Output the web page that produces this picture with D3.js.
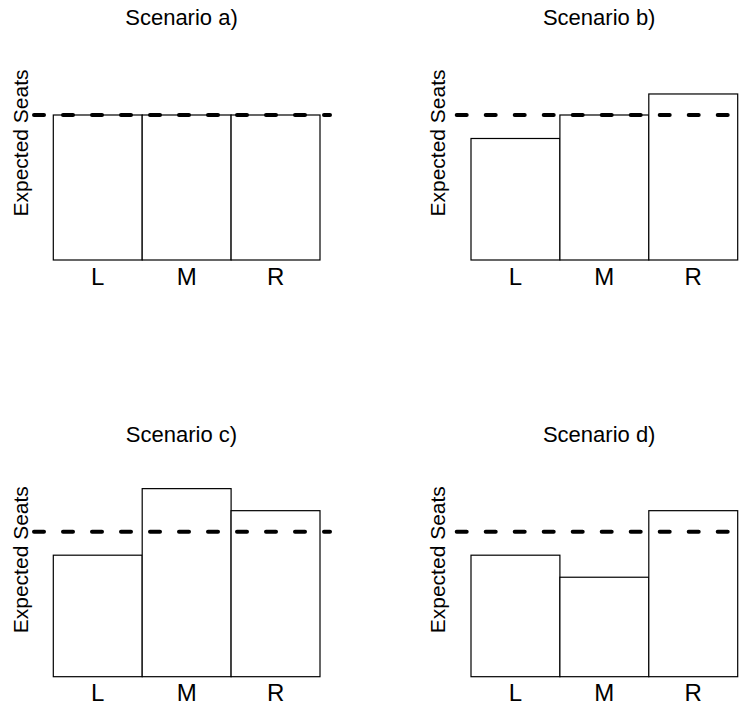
<!DOCTYPE html>
<html>
<head>
<meta charset="utf-8">
<script src="https://cdn.jsdelivr.net/npm/d3@7"></script>
<style>
  body { margin: 0; background: #fff; }
  svg { display: block; font-family: "Liberation Sans", Arial, Helvetica, sans-serif; }
</style>
</head>
<body>
<div id="chart"></div>
<script>
// data
var categories = ["L", "M", "R"];
var titles = ["Scenario a)", "Scenario b)", "Scenario c)", "Scenario d)"];
var seatsA = [1, 1, 1];
var seatsB = [0.838, 1, 1.145];
var seatsC = [0.838, 1.297, 1.145];
var seatsD = [0.838, 0.686, 1.145];
var expectedLevel = 1;

var panels = [
  { title: titles[0], values: seatsA, col: 0, row: 0 },
  { title: titles[1], values: seatsB, col: 1, row: 0 },
  { title: titles[2], values: seatsC, col: 0, row: 1 },
  { title: titles[3], values: seatsD, col: 1, row: 1 }
];

var W = 740, H = 708;
var colOffset = [0, 417.7];
var rowOffset = [0, 416.7];

var svg = d3.select("#chart").append("svg")
  .attr("width", W)
  .attr("height", H);

// bar positions inside one panel
var x = d3.scaleBand().domain(categories).range([53.3, 320]).padding(0);
var y = d3.scaleLinear().domain([0, 1]).range([260, 115]);

panels.forEach(function (p) {
  var g = svg.append("g")
    .attr("transform", "translate(" + colOffset[p.col] + "," + rowOffset[p.row] + ")");

  // title
  g.append("text")
    .attr("x", 181.5)
    .attr("y", 25)
    .attr("text-anchor", "middle")
    .style("font-size", "22px")
    .text(p.title);

  // y label
  g.append("text")
    .attr("transform", "translate(27.5,143) rotate(-90)")
    .attr("text-anchor", "middle")
    .style("font-size", "21px")
    .text("Expected Seats");

  // bars
  g.selectAll("rect.bar")
    .data(p.values)
    .enter().append("rect")
    .attr("class", "bar")
    .attr("x", function (d, i) { return x(categories[i]); })
    .attr("y", function (d) { return y(d); })
    .attr("width", x.bandwidth())
    .attr("height", function (d) { return y(0) - y(d); })
    .attr("fill", "#fff")
    .attr("stroke", "#000")
    .attr("stroke-width", 1.2);

  // category labels
  var axis = d3.axisBottom(x).tickSize(0).tickPadding(0);
  var ax = g.append("g")
    .attr("transform", "translate(0," + y(0) + ")")
    .call(axis);
  ax.select(".domain").remove();
  ax.selectAll("text")
    .attr("y", 24.5)
    .attr("dy", null)
    .style("font-size", "24px")
    .style("font-family", "'Liberation Sans', Arial, Helvetica, sans-serif")
    .attr("fill", "#000");

  // expected level dashed line
  var startX = p.col === 0 ? 34 : 39;
  g.append("line")
    .attr("x1", startX)
    .attr("x2", 330)
    .attr("y1", y(expectedLevel))
    .attr("y2", y(expectedLevel))
    .attr("stroke", "#000")
    .attr("stroke-width", 4)
    .attr("stroke-linecap", "round")
    .attr("stroke-dasharray", "10,19");
});
</script>
</body>
</html>
